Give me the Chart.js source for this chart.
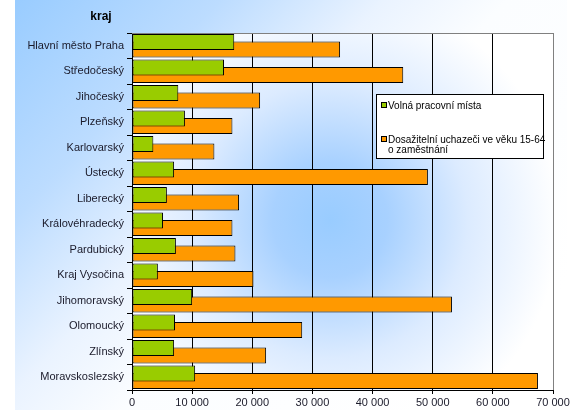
<!DOCTYPE html>
<html>
<head>
<meta charset="utf-8">
<script src="https://cdn.jsdelivr.net/npm/chart.js@4"></script>
<style>
  html, body { margin: 0; padding: 0; background: #fff; }
  #wrap { width: 587px; height: 410px; }
</style>
</head>
<body>
<div id="wrap"><canvas id="krajChart" width="587" height="410"></canvas></div>
<script>
var kraje = ['Hlavní město Praha', 'Středočeský', 'Jihočeský', 'Plzeňský', 'Karlovarský', 'Ústecký',
    'Liberecký', 'Královéhradecký', 'Pardubický', 'Kraj Vysočina', 'Jihomoravský', 'Olomoucký',
    'Zlínský', 'Moravskoslezský'];
var volnaMista = [17000, 15300, 7700, 8800, 3550, 7000, 5800, 5150, 7300, 4300, 10000, 7150, 7000, 10500];
var uchazeci = [34600, 45100, 21300, 16700, 13700, 49200, 17800, 16700, 17200, 20200, 53200, 28300, 22300, 67500];
var xTicks = [0, 10000, 20000, 30000, 40000, 50000, 60000, 70000];

function fmt(v) {
    return v === 0 ? '0' : (v / 1000) + ' 000';
}

var bgPlugin = {
    id: 'bgPlugin',
    beforeDraw: function (chart) {
        var ctx = chart.ctx, a = chart.chartArea;
        ctx.save();
        var g = ctx.createLinearGradient(15, 0, 450, 410);
        g.addColorStop(0, '#99ccff');
        g.addColorStop(0.25, '#bcdcff');
        g.addColorStop(0.45, '#eaf3ff');
        g.addColorStop(0.6, '#fbfdff');
        g.addColorStop(1, '#ffffff');
        ctx.fillStyle = g;
        ctx.fillRect(15, 0, 552, 410);

        var r = ctx.createRadialGradient(330, 220, 0, 330, 220, 230);
        r.addColorStop(0, '#99ccff');
        r.addColorStop(0.25, '#a8d1ff');
        r.addColorStop(0.6, '#dcebff');
        r.addColorStop(1, '#ffffff');
        ctx.fillStyle = r;
        ctx.fillRect(a.left, a.top, a.right - a.left, a.bottom - a.top);
        ctx.restore();
    },
    afterDraw: function (chart) {
        var ctx = chart.ctx, a = chart.chartArea;
        ctx.save();
        // plot area frame top
        ctx.strokeStyle = '#808080';
        ctx.lineWidth = 1;
        ctx.beginPath();
        ctx.moveTo(a.left, Math.round(a.top) + 0.5);
        ctx.lineTo(Math.round(a.right) + 0.5, Math.round(a.top) + 0.5);
        ctx.stroke();

        // axis title
        ctx.fillStyle = '#000';
        ctx.font = 'bold 12px "Liberation Sans", Arial, sans-serif';
        ctx.textAlign = 'center';
        ctx.textBaseline = 'middle';
        ctx.fillText('kraj', 101, 17);

        // legend
        var lx = 376, ly = 94, lw = 167, lh = 64;
        ctx.fillStyle = '#fff';
        ctx.fillRect(lx, ly, lw, lh);
        ctx.strokeStyle = '#000';
        ctx.strokeRect(lx + 0.5, ly + 0.5, lw, lh);
        ctx.font = '10px "Liberation Sans", Arial, sans-serif';
        ctx.textAlign = 'left';
        ctx.textBaseline = 'alphabetic';
        var ds = chart.data.datasets;
        var rows = [
            { y: 102, lines: [ds[0].label] },
            { y: 136, lines: ['Dosažitelní uchazeči ve věku 15-64', 'o zaměstnání'] }
        ];
        rows.forEach(function (row, i) {
            ctx.fillStyle = ds[i].backgroundColor;
            ctx.fillRect(381.5, row.y + 0.5, 5, 5);
            ctx.strokeStyle = '#000';
            ctx.strokeRect(381.5, row.y + 0.5, 5, 5);
            ctx.fillStyle = '#000';
            row.lines.forEach(function (t, k) {
                ctx.fillText(t, 388, row.y + 6.5 + k * 10);
            });
        });
        ctx.restore();
    }
};

document.addEventListener('DOMContentLoaded', function () {
    var ctx = document.getElementById('krajChart').getContext('2d');
    var chart = new Chart(ctx, {
        type: 'bar',
        data: {
            labels: kraje,
            datasets: [{
                label: 'Volná pracovní místa',
                data: volnaMista,
                backgroundColor: '#99cc00',
                borderColor: '#000',
                borderWidth: 1,
                borderSkipped: false,
                categoryPercentage: 0.57,
                barPercentage: 2.2
            }, {
                label: 'Dosažitelní uchazeči ve věku 15-64 o zaměstnání',
                data: uchazeci,
                backgroundColor: '#ff9900',
                borderColor: '#000',
                borderWidth: 1,
                borderSkipped: false,
                categoryPercentage: 0.57,
                barPercentage: 2.2
            }]
        },
        options: {
            indexAxis: 'y',
            responsive: false,
            animation: false,
            layout: { padding: { top: 33, right: 34, left: 0, bottom: 0 } },
            plugins: {
                legend: { display: false },
                tooltip: { enabled: false }
            },
            scales: {
                x: {
                    min: 0,
                    max: 70000,
                    afterBuildTicks: function (s) {
                        s.ticks = xTicks.map(function (v) { return { value: v }; });
                    },
                    afterFit: function (s) { s.height = 20; },
                    ticks: {
                        callback: function (v) { return fmt(v); },
                        font: { family: '"Liberation Sans", Arial, sans-serif', size: 11 },
                        color: '#1a1a2a',
                        padding: 2,
                        maxRotation: 0
                    },
                    grid: {
                        color: function (c) { return c.index === 7 ? '#808080' : '#000'; },
                        tickColor: '#000',
                        tickLength: 4,
                        lineWidth: 1
                    },
                    border: { display: true, color: '#000', width: 1 }
                },
                y: {
                    afterFit: function (s) { s.width = 132; },
                    ticks: {
                        font: { family: '"Liberation Sans", Arial, sans-serif', size: 11 },
                        color: '#1a1a2a',
                        padding: 3
                    },
                    grid: {
                        offset: true,
                        drawOnChartArea: false,
                        tickLength: 5,
                        color: '#000'
                    },
                    border: { display: true, color: '#000', width: 1 }
                }
            }
        },
        plugins: [bgPlugin]
    });
});
</script>
</body>
</html>
